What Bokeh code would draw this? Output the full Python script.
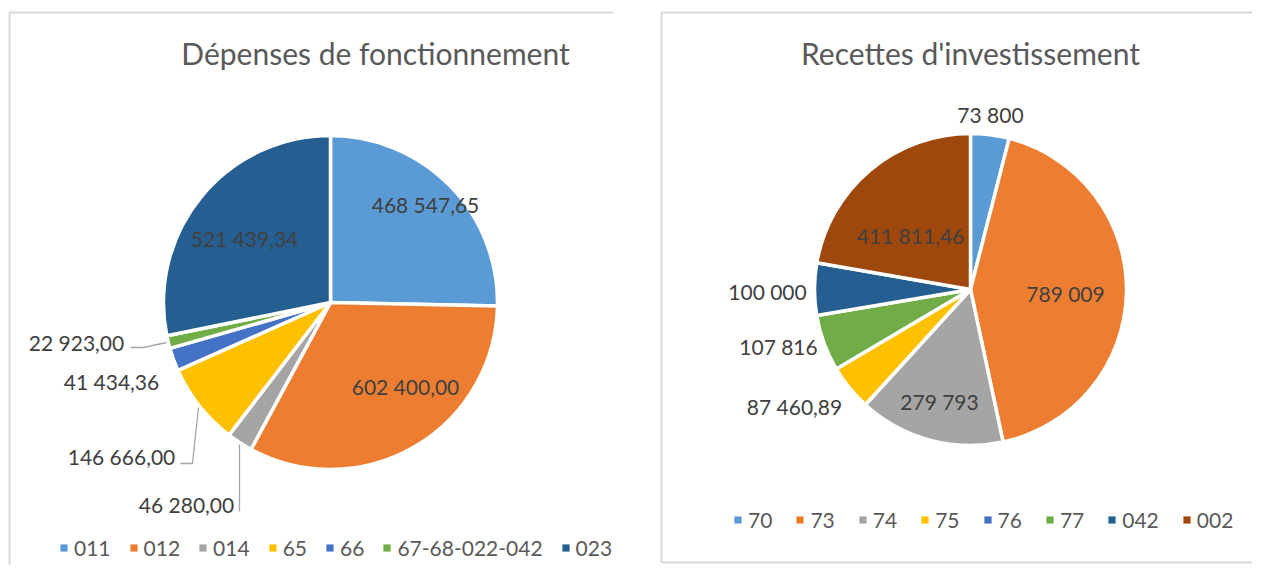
import numpy as np
from bokeh.plotting import figure
from bokeh.models import Range1d, ColumnDataSource, Legend, LegendItem
from bokeh.embed import file_html
from bokeh.resources import INLINE
from bokeh.core.properties import value

# ---------------- data ----------------
dep_title = "Dépenses de fonctionnement"
dep_categories = ["011", "012", "014", "65", "66", "67-68-022-042", "023"]
dep_values = [468547.65, 602400.00, 46280.00, 146666.00, 41434.36, 22923.00, 521439.34]

rec_title = "Recettes d'investissement"
rec_categories = ["70", "73", "74", "75", "76", "77", "042", "002"]
rec_values = [73800, 789009, 279793, 87460.89, 0, 107816, 100000, 411811.46]

# ---------------- style / layout ----------------
W, H = 1252, 565
FONT = "Lato"
TXT = "#404040"
TITLE = "#595959"
BORDER = "#d9d9d9"
rec_colors = ["#5B9BD5", "#ED7D31", "#A5A5A5", "#FFC000", "#4472C4", "#70AD47", "#255E91", "#9E480E"]
dep_colors = ["#5B9BD5", "#ED7D31", "#A5A5A5", "#FFC000", "#4472C4", "#70AD47", "#255E91"]


def fx(x):  # screenshot pixel -> data
    return x


def fy(y):
    return H - y


def fr_fmt(v, dec):
    s = f"{v:,.{dec}f}"
    return s.replace(",", " ").replace(".", ",")


dep_labels = [fr_fmt(v, 2) for v in dep_values]
rec_labels = [("" if v == 0 else fr_fmt(v, 0 if float(v).is_integer() else 2)) for v in rec_values]

# label anchor positions (screen pixels) - layout only
dep_label_pos = [(425, 204), (405, 386), (186, 504), (121, 456), (111, 381), (76, 342), (244, 238)]
rec_label_pos = [(990, 114), (1065, 293), (939, 401), (794, 406), None, (778, 346), (767, 291), (910, 235)]

dep_leaders = [
    [(239, 444), (239, 511)],
    [(198, 407), (192, 463), (180, 463)],
    [(166, 342), (143, 347), (130, 347)],
]

p = figure(width=W, height=H, output_backend="svg", toolbar_location=None,
           x_range=Range1d(0, W), y_range=Range1d(0, H), min_border=0)
p.axis.visible = False
p.grid.visible = False
p.outline_line_color = None
p.background_fill_color = "white"

# panel borders
p.multi_line(xs=[[fx(9), fx(9), fx(613)], [fx(661), fx(661), fx(1280)], [fx(661), fx(1280)]],
             ys=[[fy(600), fy(12), fy(12)], [fy(562), fy(12), fy(12)], [fy(562), fy(562)]],
             line_color=BORDER, line_width=2)


def pie(cats, vals, cols, cx, cy, r):
    v = np.array(vals, dtype=float)
    frac = v / v.sum()
    cum = np.concatenate([[0.0], np.cumsum(frac)])
    start = np.pi / 2 - cum[1:] * 2 * np.pi
    end = np.pi / 2 - cum[:-1] * 2 * np.pi
    keep = v > 0
    src = ColumnDataSource(dict(cat=list(np.array(cats)[keep]), start=start[keep], end=end[keep],
                                color=list(np.array(cols)[keep])))
    p.wedge(x=fx(cx), y=fy(cy), radius=r, start_angle="start", end_angle="end",
            fill_color="color", line_color="white", line_width=3.5, source=src)
    # legend swatch renderer (kept outside the visible range)
    lsrc = ColumnDataSource(dict(x=[-500] * len(cats), y=[-500] * len(cats), color=cols))
    return p.rect(x="x", y="y", width=1, height=1, fill_color="color", line_color=None, source=lsrc)


r_dep = pie(dep_categories, dep_values, dep_colors, 330, 302, 167)
r_rec = pie(rec_categories, rec_values, rec_colors, 970, 289, 156)

# leader lines
for pts in dep_leaders:
    p.line([fx(a) for a, b in pts], [fy(b) for a, b in pts], line_color="#A6A6A6", line_width=1.3)


# data labels
def labels(texts, pos):
    xs, ys, ts = [], [], []
    for t, ps in zip(texts, pos):
        if ps is None or t == "":
            continue
        xs.append(fx(ps[0])); ys.append(fy(ps[1])); ts.append(t)
    p.text(x=xs, y=ys, text=ts, text_align="center", text_baseline="middle",
           text_font=value(FONT), text_font_size="21px", text_color=TXT)


labels(dep_labels, dep_label_pos)
labels(rec_labels, rec_label_pos)

# titles
p.text(x=[fx(375), fx(970)], y=[fy(52), fy(52)], text=[dep_title, rec_title],
       text_align="center", text_baseline="middle", text_font=value(FONT),
       text_font_size="30px", text_color=TITLE)


# legends
def make_legend(rend, cats, loc, spacing):
    items = [LegendItem(label=c, renderers=[rend], index=i) for i, c in enumerate(cats)]
    lg = Legend(items=items, orientation="horizontal", location=loc,
                label_text_font=FONT, label_text_font_size="21px", label_text_color=TITLE,
                glyph_width=9, glyph_height=9, label_standoff=6, spacing=spacing,
                padding=0, margin=0, border_line_alpha=0, background_fill_alpha=0,
                label_height=20, label_text_line_height=1.0)
    p.add_layout(lg, "center")


make_legend(r_dep, dep_categories, (59, H - 560), 18)
make_legend(r_rec, rec_categories, (733, H - 532), 23)

open("out.html", "w").write(file_html(p, INLINE))
